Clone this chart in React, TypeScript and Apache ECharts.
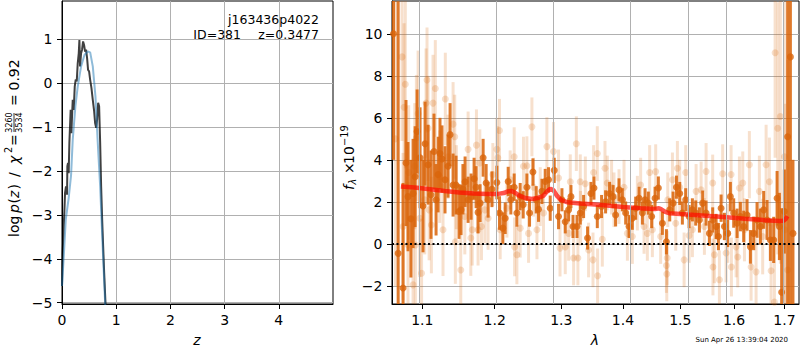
import React, { useEffect, useRef } from 'react';
import * as echarts from 'echarts';

// ---------- Left panel: log p(z) ----------
const zTicks = [0, 1, 2, 3, 4];
const logpTicks = [-5, -4, -3, -2, -1, 0, 1];
const pzChi2 = [
  [0, -4.62], [0.012, -3.86], [0.031, -3.26], [0.043, -2.95], [0.056, -2.5], [0.074, -2.35],
  [0.093, -2.54], [0.099, -1.89], [0.111, -1.82], [0.123, -2.05], [0.136, -1.36], [0.148, -0.98],
  [0.16, -0.61], [0.173, -1.14], [0.185, -0.76], [0.198, -0.38], [0.216, -0.61], [0.235, -0.08],
  [0.253, 0.08], [0.272, 0.04], [0.29, 0.45], [0.309, 0.68], [0.321, 0.98], [0.333, 0.38],
  [0.352, 0.68], [0.37, 0.76], [0.389, 0.95], [0.407, 0.87], [0.426, 0.72], [0.444, 0.76],
  [0.463, 0.57], [0.481, 0.3], [0.5, 0.27], [0.519, 0.08], [0.543, -0.11], [0.568, -0.38],
  [0.593, -0.64], [0.611, -0.91], [0.63, -1.02], [0.648, -0.83], [0.667, -0.45], [0.685, -0.53],
  [0.704, -1.36], [0.722, -2.35], [0.741, -3.11], [0.759, -3.71], [0.778, -4.32], [0.802, -5.0],
  [0.815, -5.38],
];
const pzPrior = [
  [0, -4.62], [0.03, -4.0], [0.07, -3.1], [0.123, -2.62], [0.167, -2.1], [0.198, -1.29],
  [0.247, -0.53], [0.29, -0.08], [0.352, 0.38], [0.414, 0.64], [0.475, 0.72], [0.52, 0.7],
  [0.568, 0.38], [0.617, -0.3], [0.66, -1.36], [0.704, -2.35], [0.753, -3.8], [0.796, -5.0],
  [0.81, -5.3],
];

// ---------- Right panel: spectrum ----------
const lamTicks = [1.1, 1.2, 1.3, 1.4, 1.5, 1.6, 1.7];
const fluxTicks = [-2, 0, 2, 4, 6, 8, 10];
const LAM_MIN = 1.0606;
const LAM_MAX = 1.73;

const modelSpec = [
  [1.072, 2.73], [1.09, 2.68], [1.11, 2.6], [1.13, 2.52], [1.15, 2.45], [1.17, 2.4],
  [1.19, 2.38], [1.205, 2.38], [1.213, 2.42], [1.219, 2.5], [1.224, 2.52], [1.229, 2.45],
  [1.236, 2.3], [1.245, 2.18], [1.255, 2.14], [1.265, 2.2], [1.272, 2.28], [1.278, 2.5],
  [1.283, 2.62], [1.288, 2.55], [1.293, 2.3], [1.3, 2.08], [1.31, 1.98], [1.33, 1.92],
  [1.36, 1.86], [1.4, 1.76], [1.43, 1.7], [1.455, 1.66], [1.462, 1.7], [1.466, 1.65],
  [1.473, 1.52], [1.48, 1.46], [1.5, 1.42], [1.54, 1.35], [1.58, 1.28], [1.62, 1.2],
  [1.66, 1.13], [1.69, 1.09], [1.698, 1.1], [1.703, 1.2], [1.706, 1.32],
];

// [lambda, flux, error]
const darkSpec = [
  [1.0625, 10.0, 6.0], [1.0685, -0.45, 12.0], [1.0748, -2.1, 5.0], [1.0786, 3.85, 3.0],
  [1.0812, 2.25, 2.6], [1.085, 1.2, 2.8], [1.0878, 2.4, 2.6], [1.0905, 3.2, 2.4],
  [1.0931, 5.35, 2.0], [1.097, 4.1, 2.4], [1.1009, 1.8, 2.2], [1.1036, 4.77, 2.0],
  [1.1076, 3.77, 1.9], [1.1115, 2.34, 2.1], [1.1155, 4.4, 1.8], [1.1183, 2.1, 1.7],
  [1.121, 3.3, 1.8], [1.1236, 4.3, 1.7], [1.1263, 4.04, 1.6], [1.1304, 3.05, 1.6],
  [1.1345, 3.7, 1.5], [1.1373, 5.2, 1.5], [1.1414, 2.8, 1.5], [1.1455, 2.8, 1.4],
  [1.1496, 1.54, 1.3], [1.1524, 1.62, 1.2], [1.155, 2.6, 1.2], [1.158, 2.96, 1.2],
  [1.1622, 2.1, 1.1], [1.1664, 2.25, 1.1], [1.1706, 3.1, 1.0], [1.1734, 2.7, 1.0],
  [1.1762, 1.5, 1.0], [1.1791, 1.94, 0.9], [1.1834, 4.1, 0.9], [1.1877, 2.9, 0.9],
  [1.1905, 2.1, 0.85], [1.196, 2.6, 0.85], [1.2031, 2.92, 0.8], [1.2069, 1.47, 0.8],
  [1.2118, 0.75, 0.75], [1.2152, 1.22, 0.75], [1.2196, 2.97, 0.7], [1.2235, 2.1, 0.7],
  [1.2284, 2.7, 0.65], [1.2324, 1.47, 0.65], [1.2373, 2.25, 0.65], [1.2418, 1.86, 0.65],
  [1.2473, 2.7, 0.65], [1.2513, 1.47, 0.65], [1.2564, 3.42, 0.65], [1.2614, 2.1, 0.65],
  [1.2649, 1.65, 0.6], [1.2701, 2.5, 0.6], [1.2751, 2.97, 0.6], [1.2802, 3.05, 0.6],
  [1.2828, 1.7, 0.6], [1.289, 3.5, 0.6], [1.2957, 1.3, 0.6], [1.301, 2.1, 0.55],
  [1.3062, 1.05, 0.55], [1.3115, 1.62, 0.55], [1.3152, 2.25, 0.55], [1.3184, 0.83, 0.55],
  [1.3248, 0.83, 0.55], [1.33, 1.47, 0.55], [1.3353, 1.78, 0.55], [1.3417, 0.28, 0.55],
  [1.3472, 2.4, 0.55], [1.3521, 2.66, 0.55], [1.3575, 1.3, 0.55], [1.3645, 1.78, 0.55],
  [1.3711, 2.0, 0.55], [1.3777, 2.4, 0.55], [1.3834, 2.25, 0.55], [1.3877, 1.38, 0.55],
  [1.3934, 2.57, 0.55], [1.399, 2.1, 0.55], [1.4046, 1.47, 0.55], [1.4103, 0.83, 0.55],
  [1.4159, 1.22, 0.55], [1.4216, 1.7, 0.55], [1.4274, 2.17, 0.55], [1.4331, 1.47, 0.55],
  [1.4377, 2.1, 0.55], [1.4434, 1.94, 0.55], [1.4492, 1.3, 0.55], [1.4551, 2.17, 0.55],
  [1.4609, 2.66, 0.55], [1.468, 0.98, 0.55], [1.4751, 0.1, 0.6], [1.481, 1.62, 0.55],
  [1.487, 1.94, 0.55], [1.493, 2.7, 0.55], [1.4989, 2.4, 0.55], [1.5037, 1.47, 0.55],
  [1.5097, 2.1, 0.55], [1.5159, 1.3, 0.55], [1.5219, 1.62, 0.55], [1.528, 1.47, 0.6],
  [1.5348, 1.14, 0.6], [1.5409, 1.94, 0.6], [1.5472, 1.47, 0.6], [1.5533, 0.5, 0.6],
  [1.5595, 1.14, 0.6], [1.5659, 0.83, 0.6], [1.5703, 0.35, 0.65], [1.5753, 1.7, 0.65],
  [1.5816, 0.83, 0.65], [1.5879, 0.5, 0.65], [1.593, 2.25, 0.7], [1.5994, 1.47, 0.7],
  [1.6059, 0.98, 0.7], [1.6123, 1.3, 0.7], [1.6187, 0.83, 0.75], [1.6253, 1.38, 0.75],
  [1.6318, -0.14, 0.8], [1.6383, 0.5, 0.8], [1.6449, 1.14, 0.85], [1.6515, 0.83, 0.85],
  [1.6581, 1.62, 0.9], [1.6648, 1.14, 0.95], [1.6715, 0.19, 1.0], [1.6782, 0.19, 1.1],
  [1.685, 2.17, 1.3], [1.6897, 0.83, 1.6], [1.6943, -2.3, 4.0], [1.6998, 1.54, 2.0],
  [1.7065, 5.1, 8.0], [1.7122, 8.9, 12.0], [1.7175, 0.5, 3.5],
];

const lightSpec = [
  [1.065, 5.0, 7.0], [1.0735, 8.9, 4.0], [1.0748, 0.83, 3.5], [1.0761, 6.5, 4.0],
  [1.0777, 7.6, 4.0], [1.0812, -0.05, 3.0], [1.0821, 3.4, 3.2], [1.0878, -1.95, 3.0],
  [1.09, 3.7, 3.0], [1.0908, -0.05, 2.8], [1.0921, 5.04, 3.0], [1.0944, 6.2, 3.0],
  [1.0966, 1.22, 2.8], [1.099, -1.4, 2.6], [1.1032, 2.1, 2.6], [1.1049, 6.7, 2.6],
  [1.1062, 7.8, 2.5], [1.1076, 5.5, 2.5], [1.109, 1.62, 2.4], [1.112, 0.9, 2.3],
  [1.1142, 6.7, 2.3], [1.1173, 7.4, 2.3], [1.1232, 3.2, 2.2], [1.1277, 0.67, 2.2],
  [1.1308, 6.9, 2.2], [1.1345, 4.15, 2.0], [1.1414, 5.7, 2.0], [1.1437, 5.1, 2.0],
  [1.1445, 0.1, 2.0], [1.1459, 2.7, 2.0], [1.152, -1.24, 1.9], [1.1576, 1.3, 1.8],
  [1.1622, 4.5, 1.8], [1.166, 0.28, 1.8], [1.168, 0.67, 1.7], [1.1739, 4.7, 1.7],
  [1.1762, 0.67, 1.7], [1.1787, 3.85, 1.6], [1.181, 0.83, 1.6], [1.1858, 1.62, 1.6],
  [1.1905, 1.22, 1.5], [1.1973, 3.3, 1.5], [1.2031, 4.5, 1.5], [1.2045, 4.1, 1.5],
  [1.2069, 5.4, 1.5], [1.2079, 0.67, 1.4], [1.2177, 1.7, 1.4], [1.2225, 3.05, 1.4],
  [1.2284, 4.15, 1.4], [1.229, -0.14, 1.4], [1.2324, -0.52, 1.4], [1.2373, 0.75, 1.4],
  [1.2422, 3.7, 1.4], [1.2473, 3.72, 1.4], [1.2498, 0.5, 1.4], [1.2549, 5.57, 1.4],
  [1.2573, 2.7, 1.4], [1.2625, 0.67, 1.4], [1.2675, 2.25, 1.4], [1.2725, 1.47, 1.4],
  [1.2777, 4.63, 1.4], [1.2879, 4.4, 1.4], [1.2957, 3.14, 1.35], [1.298, -0.2, 1.35],
  [1.3062, -0.14, 1.3], [1.3115, 0.5, 1.3], [1.3141, 2.96, 1.3], [1.3194, -0.67, 1.3],
  [1.3237, 4.77, 1.3], [1.3262, -0.67, 1.3], [1.33, 2.96, 1.3], [1.3305, 1.22, 1.3],
  [1.3381, 2.86, 1.3], [1.3434, -0.29, 1.3], [1.3505, -0.76, 1.3], [1.3515, 3.4, 1.3],
  [1.3575, 4.3, 1.3], [1.358, -1.52, 1.3], [1.3657, 0.22, 1.3], [1.3701, 3.6, 1.3],
  [1.3739, 2.9, 1.3], [1.381, 2.7, 1.3], [1.385, 2.1, 1.3], [1.3934, 2.25, 1.3],
  [1.4018, 2.7, 1.3], [1.4075, 0.5, 1.3], [1.4159, 0.35, 1.3], [1.4245, 1.94, 1.3],
  [1.4301, 2.8, 1.3], [1.436, 0.83, 1.3], [1.4417, 0.5, 1.3], [1.4457, 3.4, 1.3],
  [1.4504, 0.67, 1.3], [1.4562, 3.44, 1.3], [1.4649, 0.35, 1.3], [1.4751, -1.03, 1.3],
  [1.4758, -1.43, 1.3], [1.4765, -0.67, 1.3], [1.4775, 2.1, 1.3], [1.4858, 3.05, 1.3],
  [1.4917, 0.98, 1.3], [1.4947, 3.6, 1.3], [1.4989, 2.7, 1.3], [1.5068, -0.76, 1.3],
  [1.5097, 3.4, 1.3], [1.5159, 0.4, 1.3], [1.5219, 0.67, 1.3], [1.5287, 2.5, 1.3],
  [1.5379, 2.57, 1.35], [1.544, 0.83, 1.35], [1.5472, 3.45, 1.35], [1.5595, 2.9, 1.35],
  [1.56, -1.1, 1.35], [1.5627, -0.52, 1.35], [1.5721, -1.71, 1.4], [1.5783, 3.34, 1.4],
  [1.5848, -0.43, 1.4], [1.5879, 0.5, 1.4], [1.5944, 3.3, 1.4], [1.595, -1.1, 1.4],
  [1.604, -0.14, 1.45], [1.6072, -0.62, 1.45], [1.6104, 2.66, 1.5], [1.6169, 2.9, 1.5],
  [1.6202, 0.67, 1.5], [1.6298, 3.77, 1.6], [1.6332, -1.1, 1.6], [1.643, -1.33, 1.6],
  [1.6495, 2.5, 1.7], [1.6561, 0.35, 1.8], [1.6629, 3.77, 1.9], [1.6695, 2.96, 2.1],
  [1.6729, -1.28, 2.2], [1.6796, -2.77, 4.0], [1.681, 9.1, 5.0], [1.6863, 5.5, 6.0],
  [1.6917, 6.06, 7.0], [1.6999, 4.15, 8.0], [1.7005, 0.67, 6.0], [1.7067, -1.24, 10.0],
];

const FONT = 'DejaVu Sans';
const L = (v: number) => Math.log10(v);
const minus = (v: number | string) => String(v).replace('-', '\u2212');

const DARK_BAR = 'rgba(217,99,7,0.85)';
const DARK_PT = '#d9650b';
const LIGHT_BAR = 'rgba(217,99,7,0.2)';
const LIGHT_PT = 'rgba(217,99,7,0.26)';

const errRender = (color: string, w: number) => (params: any, api: any) => {
  const x = api.value(0);
  const y = api.value(1);
  const e = api.value(2);
  const p1 = api.coord([x, y + e]);
  const p2 = api.coord([x, y - e]);
  const cs = params.coordSys;
  const top = Math.max(cs.y, Math.min(p1[1], p2[1]));
  const bot = Math.min(cs.y + cs.height, Math.max(p1[1], p2[1]));
  if (bot <= top) return null;
  return {
    type: 'line',
    shape: { x1: p1[0], y1: top, x2: p1[0], y2: bot },
    style: { stroke: color, lineWidth: w },
  };
};

const txt = (text: string, x: number, y: number, size: number, extra: any = {}) => ({
  type: 'text',
  x,
  y,
  z: 100,
  style: {
    text,
    fontSize: size,
    fontFamily: FONT,
    fill: '#000',
    textAlign: extra.align || 'left',
    align: extra.align || 'left',
    textVerticalAlign: 'middle',
    verticalAlign: 'middle',
    fontStyle: extra.italic ? 'italic' : 'normal',
  },
});

export default function App() {
  const ref = useRef<HTMLDivElement>(null);
  useEffect(() => {
    document.body.style.margin = '0';
    const chart = echarts.init(ref.current!, null, { renderer: 'svg' });

    const axisCommon = {
      axisLine: { show: true, onZero: false, lineStyle: { color: '#000', width: 1 } },
      splitLine: { show: true, lineStyle: { color: '#b0b0b0', width: 1 } },
    };
    const labelCommon = { color: '#000', fontSize: 14, fontFamily: FONT };

    const option: any = {
      animation: false,
      grid: [
        { left: 62, top: 1, width: 271, height: 303, show: true, borderColor: '#000', borderWidth: 1, backgroundColor: 'transparent' },
        { left: 392, top: 1, width: 407, height: 303, show: true, borderColor: '#000', borderWidth: 1, backgroundColor: 'transparent' },
      ],
      xAxis: [
        {
          type: 'value', gridIndex: 0, min: 0, max: 5, interval: 1,
          ...axisCommon,
          axisTick: { show: true, length: 5, customValues: zTicks, lineStyle: { color: '#000' } },
          axisLabel: { ...labelCommon, margin: 9, customValues: zTicks, formatter: (v: number) => minus(v) },
        },
        {
          type: 'value', gridIndex: 1, min: L(LAM_MIN), max: L(LAM_MAX),
          axisLine: { show: true, onZero: false, lineStyle: { color: '#000', width: 1 } },
          splitLine: { show: false },
          axisTick: { show: true, length: 5, customValues: lamTicks.map(L), lineStyle: { color: '#000' } },
          axisLabel: {
            ...labelCommon, margin: 9, customValues: lamTicks.map(L),
            formatter: (v: number) => Math.pow(10, v).toFixed(1),
          },
        },
      ],
      yAxis: [
        {
          type: 'value', gridIndex: 0, min: -5.03, max: 1.87, minInterval: 1, maxInterval: 1,
          ...axisCommon,
          axisTick: { show: true, length: 5, customValues: logpTicks, lineStyle: { color: '#000' } },
          axisLabel: { ...labelCommon, margin: 9.5, customValues: logpTicks, formatter: (v: number) => minus(v) },
        },
        {
          type: 'value', gridIndex: 1, min: -2.86, max: 11.56, minInterval: 2, maxInterval: 2,
          ...axisCommon,
          axisTick: { show: true, length: 5, customValues: fluxTicks, lineStyle: { color: '#000' } },
          axisLabel: { ...labelCommon, margin: 9.5, customValues: fluxTicks, formatter: (v: number) => minus(v) },
        },
      ],
      series: [
        {
          type: 'line', xAxisIndex: 0, yAxisIndex: 0, data: pzChi2, showSymbol: false, symbol: 'none',
          lineStyle: { color: 'rgba(0,0,0,0.75)', width: 2 }, z: 3, clip: true,
        },
        {
          type: 'line', xAxisIndex: 0, yAxisIndex: 0, data: pzPrior, showSymbol: false, symbol: 'none',
          lineStyle: { color: 'rgba(31,119,180,0.5)', width: 2 }, z: 4, clip: true,
        },
        {
          type: 'line', xAxisIndex: 1, yAxisIndex: 1, data: [[L(1.1), 0]], symbol: 'none',
          lineStyle: { opacity: 0 }, z: 1, silent: true,
          markLine: {
            silent: true, symbol: ['none', 'none'], label: { show: false },
            lineStyle: { color: '#b0b0b0', width: 1, type: 'solid' },
            data: lamTicks.map((v) => ({ xAxis: L(v) })),
          },
        },
        {
          type: 'custom', xAxisIndex: 1, yAxisIndex: 1, z: 2,
          data: lightSpec.map(([l, f, e]) => [L(l), f, e]),
          dimensions: ['x', 'y', 'e'], encode: { x: 0, y: 1 },
          renderItem: errRender(LIGHT_BAR, 3),
        },
        {
          type: 'scatter', xAxisIndex: 1, yAxisIndex: 1, z: 2, symbolSize: 7, clip: true,
          data: lightSpec.map(([l, f]) => [L(l), f]),
          itemStyle: { color: LIGHT_PT },
        },
        {
          type: 'custom', xAxisIndex: 1, yAxisIndex: 1, z: 3,
          data: darkSpec.map(([l, f, e]) => [L(l), f, e]),
          dimensions: ['x', 'y', 'e'], encode: { x: 0, y: 1 },
          renderItem: errRender(DARK_BAR, 3),
        },
        {
          type: 'scatter', xAxisIndex: 1, yAxisIndex: 1, z: 3, symbolSize: 7, clip: true,
          data: darkSpec.map(([l, f]) => [L(l), f]),
          itemStyle: { color: DARK_PT },
        },
        {
          type: 'line', xAxisIndex: 1, yAxisIndex: 1, z: 4, symbol: 'none', showSymbol: false,
          data: modelSpec.map(([l, f]) => [L(l), f]),
          lineStyle: { color: 'rgba(255,10,0,0.7)', width: 4.5 },
        },
        {
          type: 'line', xAxisIndex: 1, yAxisIndex: 1, z: 5, symbol: 'none', showSymbol: false,
          data: [[L(LAM_MIN), 0], [L(LAM_MAX), 0]],
          lineStyle: { color: '#000', width: 2, type: [2, 2.5] },
        },
      ],
      graphic: [
        txt('j163436p4022', 319, 19.5, 12.5, { align: 'right' }),
        txt('z=0.3477', 319, 34, 12.5, { align: 'right' }),
        txt('ID=381', 241, 34, 12.5, { align: 'right' }),
        txt('z', 197, 340, 14, { align: 'center', italic: true }),
        txt('\u03bb', 595, 340, 14, { align: 'center', italic: true }),
        txt('Sun Apr 26 13:39:04 2020', 788, 340, 7, { align: 'right' }),
        {
          type: 'group', x: 14, y: 237, rotation: Math.PI / 2, z: 100,
          children: [
            txt('log', 0, 0, 14),
            txt('p', 24, 0, 14, { italic: true }),
            txt('(', 33.5, 0, 14),
            txt('z', 39, 0, 14, { italic: true }),
            txt(')', 47.5, 0, 14),
            txt('/', 60, 0, 14),
            txt('\u03c7', 73, 0, 14, { italic: true }),
            txt('2', 84, -5.5, 9.8),
            txt('=', 91, 0, 14),
            txt('3260', 114.5, -5, 8, { align: 'center' }),
            { type: 'line', shape: { x1: 105, y1: 0, x2: 124, y2: 0 }, style: { stroke: '#000', lineWidth: 0.8 } },
            txt('3534', 114.5, 5, 8, { align: 'center' }),
            txt('=', 131, 0, 14),
            txt('0.92', 146.5, 0, 14),
          ],
        },
        {
          type: 'group', x: 348.5, y: 190, rotation: Math.PI / 2, z: 100,
          children: [
            txt('f', 0, 0, 14, { italic: true }),
            txt('\u03bb', 5.5, 3.5, 9.8, { italic: true }),
            txt('\u00d7', 16, 0, 14),
            txt('10', 26, 0, 14),
            txt('\u221219', 44, -4.5, 9.8),
          ],
        },
      ],
    };
    chart.setOption(option);
    return () => chart.dispose();
  }, []);
  return <div ref={ref} style={{ width: 800, height: 350 }} />;
}
